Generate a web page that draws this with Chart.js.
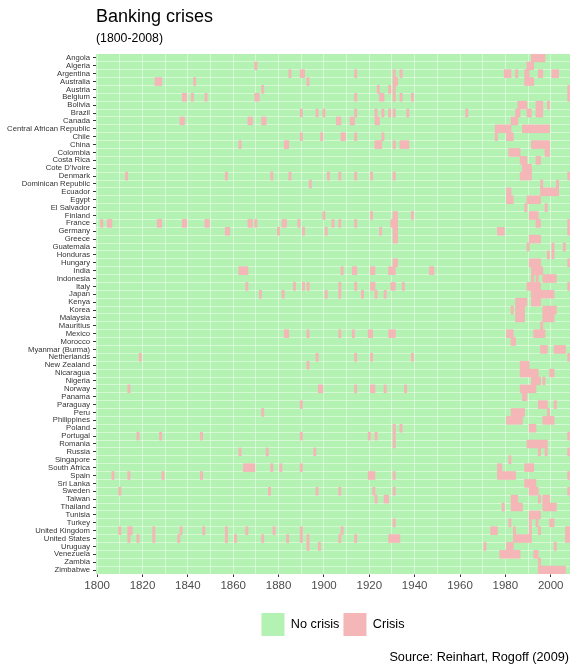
<!DOCTYPE html>
<html>
<head>
<meta charset="utf-8">
<script src="https://cdn.jsdelivr.net/npm/chart.js@4.4.0/dist/chart.umd.min.js"></script>
<style>
  html, body { margin: 0; padding: 0; background: #fff; }
  #wrap { width: 578px; height: 672px; }
</style>
</head>
<body>
<div id="wrap"><canvas id="crisisChart"></canvas></div>
<script>
// --- data ---
const countries = [
  "Angola", "Algeria", "Argentina", "Australia", "Austria", "Belgium", "Bolivia", "Brazil",
  "Canada", "Central African Republic", "Chile", "China", "Colombia", "Costa Rica",
  "Cote D'Ivoire", "Denmark", "Dominican Republic", "Ecuador", "Egypt", "El Salvador",
  "Finland", "France", "Germany", "Greece", "Guatemala", "Honduras", "Hungary", "India",
  "Indonesia", "Italy", "Japan", "Kenya", "Korea", "Malaysia", "Mauritius", "Mexico",
  "Morocco", "Myanmar (Burma)", "Netherlands", "New Zealand", "Nicaragua", "Nigeria",
  "Norway", "Panama", "Paraguay", "Peru", "Philippines", "Poland", "Portugal", "Romania",
  "Russia", "Singapore", "South Africa", "Spain", "Sri Lanka", "Sweden", "Taiwan",
  "Thailand", "Tunisia", "Turkey", "United Kingdom", "United States", "Uruguay",
  "Venezuela", "Zambia", "Zimbabwe"
];

// crisis years per country (same order as countries); [a, b] = a run of years
const crises = [
  [[1992, 1997]],                                                             // Angola
  [1870, [1990, 1992]],                                                       // Algeria
  [1885, [1890, 1891], 1914, 1931, 1934, [1980, 1982], 1985, [1989, 1990], [1995, 1996], [2001, 2003]], // Argentina
  [[1826, 1828], 1843, 1893, [1931, 1932], [1989, 1992]],                     // Australia
  [1873, 1924, 1929, 1931, 2008],                                             // Austria
  [[1838, 1839], 1842, 1848, [1870, 1871], 1914, [1925, 1926], 1931, 1934, 1939, 2008], // Belgium
  [[1986, 1989], [1994, 1996], 1999],                                         // Bolivia
  [1890, 1897, 1900, 1914, 1923, 1926, 1929, 1931, 1937, 1963, [1985, 1986], [1990, 1991], [1994, 1996]], // Brazil
  [[1837, 1838], [1867, 1868], [1873, 1874], [1906, 1907], [1912, 1913], [1923, 1924], [1983, 1985]], // Canada
  [[1976, 1982], [1988, 1999]],                                               // Central African Republic
  [1890, 1899, [1908, 1909], 1914, 1926, 1976, [1981, 1983]],                 // Chile
  [1863, [1883, 1884], [1923, 1925], 1931, [1934, 1937], [1992, 1999]],       // China
  [[1982, 1986], [1998, 1999]],                                               // Colombia
  [[1987, 1989], [1994, 1995]],                                               // Costa Rica
  [[1988, 1991]],                                                             // Cote D'Ivoire
  [1813, 1857, 1877, 1885, 1902, 1907, 1914, 1921, 1931, [1987, 1991], 2008], // Denmark
  [1894, 1996, 2003],                                                         // Dominican Republic
  [[1981, 1982], [1996, 2003]],                                               // Ecuador
  [[1981, 1983], [1990, 1995]],                                               // Egypt
  [1989, 1998],                                                               // El Salvador
  [1900, 1921, [1931, 1932], 1939, [1991, 1994]],                             // Finland
  [1802, [1805, 1806], [1827, 1828], [1838, 1839], [1848, 1849], [1867, 1868], 1870, [1882, 1883], 1889, 1904, 1907, 1914, [1930, 1932], [1994, 1995], 2008], // France
  [[1857, 1858], 1880, 1891, 1901, 1925, [1931, 1932], [1977, 1979], 2008],   // Germany
  [[1931, 1932], [1991, 1995]],                                               // Greece
  [1990, 2001, 2006],                                                         // Guatemala
  [1999, 2001],                                                               // Honduras
  [[1931, 1932], [1991, 1995], 2008],                                         // Hungary
  [[1863, 1866], 1908, [1913, 1914], [1921, 1922], [1929, 1931], [1947, 1948], [1992, 1996]], // India
  [1992, 1994, [1997, 2002]],                                                 // Indonesia
  [1866, 1887, 1891, 1893, 1907, 1914, [1921, 1922], [1930, 1931], 1935, [1990, 1995], 2008], // Italy
  [1872, 1882, 1901, 1907, 1917, 1923, 1927, [1992, 2001]],                   // Japan
  [[1985, 1989], [1992, 1995]],                                               // Kenya
  [1983, [1985, 1988], [1997, 2002]],                                         // Korea
  [[1985, 1988], [1997, 2001]],                                               // Malaysia
  [1996],                                                                     // Mauritius
  [[1883, 1884], 1893, 1907, 1913, [1920, 1921], [1929, 1931], [1981, 1983], [1993, 1997]], // Mexico
  [[1983, 1984]],                                                             // Morocco
  [[1996, 1998], [2002, 2006]],                                               // Myanmar (Burma)
  [1819, 1897, 1914, 1921, 1939, 2008],                                       // Netherlands
  [1893, [1987, 1990]],                                                       // New Zealand
  [[1987, 1994], [2000, 2001]],                                               // Nicaragua
  [[1992, 1995], 1997],                                                       // Nigeria
  [1814, [1898, 1899], 1914, [1921, 1922], 1927, 1936, [1987, 1993]],         // Norway
  [[1988, 1989]],                                                             // Panama
  [1890, [1995, 1998], 2002],                                                 // Paraguay
  [1873, [1983, 1988], 1999],                                                 // Peru
  [[1981, 1987], [1997, 2001]],                                               // Philippines
  [1931, 1934, [1991, 1993]],                                                 // Poland
  [1818, 1828, 1846, 1890, 1920, 1923, 1931, 2008],                           // Portugal
  [1931, [1990, 1998]],                                                       // Romania
  [1863, 1875, 1896, 1995, 1998, 2008],                                       // Russia
  [1982],                                                                     // Singapore
  [[1865, 1869], 1877, 1881, 1890, [1977, 1978], [1989, 1992]],               // South Africa
  [1807, 1814, 1829, 1846, [1920, 1922], 1931, [1977, 1984], 2008],           // Spain
  [[1989, 1993]],                                                             // Sri Lanka
  [1810, 1876, 1897, 1907, 1922, 1931, [1991, 1994], 2008],                   // Sweden
  [1923, [1927, 1928], [1983, 1985], 1995, [1997, 1999]],                     // Taiwan
  [1979, [1983, 1987], [1997, 2002]],                                         // Thailand
  [[1991, 1995]],                                                             // Tunisia
  [1931, 1982, 1991, 1994, [2000, 2001]],                                     // Turkey
  [1810, [1814, 1815], 1825, 1837, 1847, 1857, 1866, 1878, 1890, 1908, [1974, 1976], 1984, 1991, 1995, [2007, 2008]], // United Kingdom
  [1814, 1818, 1825, 1836, 1857, 1861, 1873, 1884, 1890, 1893, 1907, 1914, [1929, 1933], [1984, 1991], [2007, 2008]], // United States
  [1893, 1898, 1971, [1981, 1983], 2002],                                     // Uruguay
  [[1978, 1986], [1993, 1994]],                                               // Venezuela
  [1995],                                                                     // Zambia
  [[1995, 2006]]                                                              // Zimbabwe
];

const firstYear = 1800;
const lastYear = 2008;
const gridYears = [1800, 1810, 1820, 1830, 1840, 1850, 1860, 1870, 1880, 1890, 1900,
  1910, 1920, 1930, 1940, 1950, 1960, 1970, 1980, 1990, 2000];
const tickYears = [1800, 1820, 1840, 1860, 1880, 1900, 1920, 1940, 1960, 1980, 2000];
const tickLabels = ["1800", "1820", "1840", "1860", "1880", "1900", "1920", "1940", "1960", "1980", "2000"];

const titleText = "Banking crises";
const subtitleText = "(1800-2008)";
const sourceText = "Source: Reinhart, Rogoff (2009)";

const green = "#b3f2b3";
const pink = "#f4b6b6";
const fontFamily = '"Liberation Sans", Arial, sans-serif';

// each year is a tile one year wide, centred on the year
const noCrisisBars = countries.map((c) => ({ y: c, x: [firstYear - 0.5, lastYear + 0.5] }));
const crisisBars = [];
countries.forEach((c, i) => {
  crises[i].forEach((item) => {
    const run = Array.isArray(item) ? item : [item, item];
    crisisBars.push({ y: c, x: [run[0] - 0.5, run[1] + 0.5] });
  });
});

// grid lines sit on the green tiles but under the crisis tiles
const gridOverGreen = {
  id: "gridOverGreen",
  afterDatasetDraw(chart, args) {
    if (args.index !== 0) return;
    const area = chart.chartArea;
    const ctx = chart.ctx;
    ctx.save();
    ctx.beginPath();
    ctx.rect(area.left, area.top, area.right - area.left, area.bottom - area.top);
    ctx.clip();
    chart.scales.x.drawGrid(area);
    chart.scales.y.drawGrid(area);
    ctx.restore();
  },
};

const sourceNote = {
  id: "sourceNote",
  afterDraw(chart) {
    const ctx = chart.ctx;
    ctx.save();
    ctx.font = "12.7px " + fontFamily;
    ctx.fillStyle = "#000";
    ctx.textAlign = "right";
    ctx.textBaseline = "alphabetic";
    ctx.fillText(sourceText, chart.chartArea.right - 1, 661);
    ctx.restore();
  },
};

Chart.defaults.font.family = fontFamily;

new Chart(document.getElementById("crisisChart"), {
  type: "bar",
  data: {
    labels: countries,
    datasets: [
      {
        label: "No crisis",
        data: noCrisisBars,
        backgroundColor: green,
        borderWidth: 0,
        barPercentage: 1,
        categoryPercentage: 1,
        grouped: false,
        order: 2,
      },
      {
        label: "Crisis",
        data: crisisBars,
        backgroundColor: pink,
        borderWidth: 0,
        barPercentage: 1,
        categoryPercentage: 1,
        grouped: false,
        order: 1,
      },
    ],
  },
  options: {
    indexAxis: "y",
    responsive: true,
    maintainAspectRatio: false,
    animation: false,
    events: [],
    layout: { padding: { left: 0, right: 8, top: 0, bottom: 26 } },
    scales: {
      x: {
        type: "linear",
        min: firstYear - 0.5,
        max: lastYear + 0.5,
        afterBuildTicks: (scale) => {
          scale.ticks = gridYears.map((v) => ({ value: v }));
        },
        afterFit: (scale) => {
          scale.height = 35;
        },
        border: { display: false },
        grid: {
          color: "rgba(255,255,255,0.45)",
          lineWidth: 1,
          tickLength: 3,
          tickColor: (ctx) => (tickYears.includes(ctx.tick && ctx.tick.value) ? "#333" : "rgba(0,0,0,0)"),
        },
        ticks: {
          autoSkip: false,
          maxRotation: 0,
          padding: 2,
          color: "#4d4d4d",
          font: { size: 11.5 },
          callback: (value) => {
            const k = tickYears.indexOf(value);
            return k >= 0 ? tickLabels[k] : "";
          },
        },
      },
      y: {
        type: "category",
        position: "left",
        offset: true,
        border: { display: false },
        grid: { offset: true, color: "rgba(255,255,255,0.45)", lineWidth: 1, drawTicks: false },
        ticks: { display: false },
        afterFit: (scale) => {
          scale.width = 0;
        },
      },
      y2: {
        type: "category",
        position: "left",
        weight: 1,
        offset: true,
        border: { display: false },
        grid: { offset: false, drawOnChartArea: false, tickLength: 3, tickColor: "#333" },
        ticks: { autoSkip: false, padding: 3, color: "#333", font: { size: 7.7 } },
        afterFit: (scale) => {
          scale.width = 96;
        },
      },
    },
    plugins: {
      tooltip: { enabled: false },
      title: {
        display: true,
        text: titleText,
        align: "start",
        fullSize: false,
        color: "#000",
        font: { size: 18, weight: "normal" },
        padding: { top: 6, bottom: 4 },
      },
      subtitle: {
        display: true,
        text: subtitleText,
        align: "start",
        fullSize: false,
        color: "#000",
        font: { size: 12.3, weight: "normal" },
        padding: { top: 0, bottom: 7.6 },
      },
      legend: {
        position: "bottom",
        fullSize: false,
        labels: {
          boxWidth: 23,
          boxHeight: 23,
          padding: 4,
          color: "#000",
          font: { size: 12.7 },
          sort: (a, b) => a.datasetIndex - b.datasetIndex,
        },
      },
    },
  },
  plugins: [gridOverGreen, sourceNote],
});
</script>
</body>
</html>
